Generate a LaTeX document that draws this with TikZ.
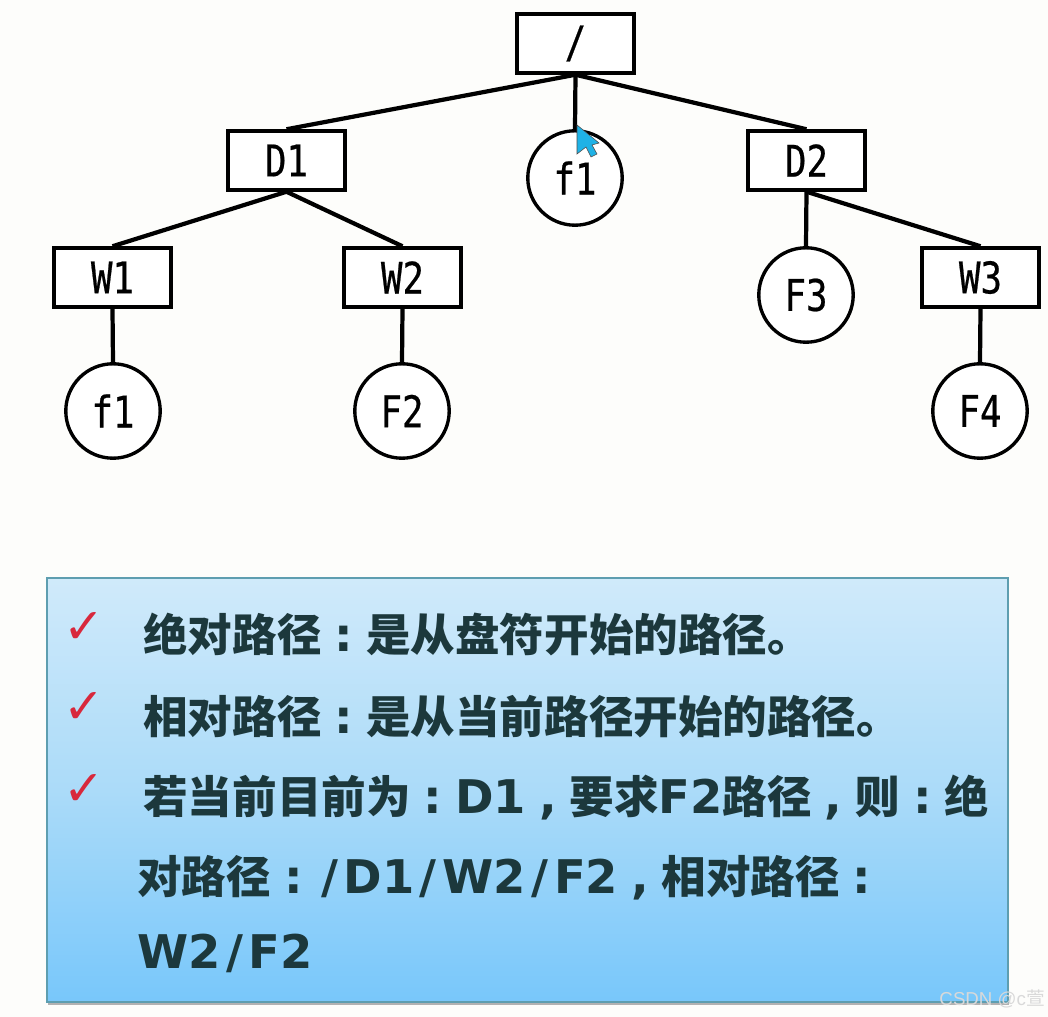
\documentclass[tikz,border=0pt]{standalone}
\usepackage{fontspec}
\setmainfont{DejaVu Sans}
\newfontfamily\cjk{Noto Sans CJK SC}
\newfontfamily\treefont[FakeStretch=0.82,FakeBold=0.5]{DejaVu Sans Mono}
\newfontfamily\markfont{Liberation Sans}
\newcommand{\zh}[1]{{\cjk\fontsize{31.7}{34}\selectfont #1}}
\newcommand{\gp}[1]{\kern.28em#1\kern.28em}
\newcommand{\sla}{\kern.12em/\kern.12em}
\definecolor{paper}{HTML}{FDFDFB}
\definecolor{panelTop}{HTML}{D0EAFA}
\definecolor{panelMid}{HTML}{ABDBF9}
\definecolor{panelBot}{HTML}{78C7FA}
\definecolor{panelEdge}{HTML}{5E9EB0}
\definecolor{inkText}{HTML}{1C383C}
\definecolor{checkRed}{HTML}{D8283C}
\definecolor{cursorBlue}{HTML}{1FB2E6}

\begin{document}
\begin{tikzpicture}[x=0.025cm, y=-0.025cm, font=\treefont\fontsize{31}{34}\selectfont,
    dirb/.style={draw, line width=2.6pt, fill=white, minimum width=2.92cm, minimum height=1.47cm, inner sep=0pt},
    fileb/.style={draw, circle, line width=2.4pt, fill=white, minimum size=2.36cm, inner sep=0pt},
    link/.style={line width=3pt},
    panel/.style={draw=panelEdge, line width=1.5pt, top color=panelTop, bottom color=panelBot, middle color=panelMid, minimum width=24cm, minimum height=10.6cm},
    txt/.style={anchor=base west, inner sep=0pt, text=inkText, font=\fontsize{33}{36}\selectfont\bfseries},
    tick/.style={anchor=center, inner sep=0pt, text=checkRed, font=\fontsize{35}{38}\selectfont}]
  \useasboundingbox (0,0) rectangle (1048,1017);
  \fill[paper] (0,0) rectangle (1048,1017);
  % ---------------- directory tree ----------------
  \node[dirb] (R) at (575.5,43.5) {/};
  \node[dirb] (D1) at (286.5,160.5) {D1};
  \node[fileb] (F1) at (575,178) {f1};
  \node[dirb] (D2) at (806.5,160.5) {D2};
  \node[dirb] (W1) at (112.5,277.5) {W1};
  \node[dirb] (W2) at (402.5,277.5) {W2};
  \node[fileb] (F3) at (806,295) {F3};
  \node[dirb] (W3) at (980.5,277.5) {W3};
  \node[fileb] (F0) at (113,411) {f1};
  \node[fileb] (F2) at (402,411) {F2};
  \node[fileb] (F4) at (980,411) {F4};
  \draw[link] (R.south) -- (D1.north);
  \draw[link] (R.south) -- (F1.north);
  \draw[link] (R.south) -- (D2.north);
  \draw[link] (D1.south) -- (W1.north);
  \draw[link] (D1.south) -- (W2.north);
  \draw[link] (D2.south) -- (F3.north);
  \draw[link] (D2.south) -- (W3.north);
  \draw[link] (W1.south) -- (F0.north);
  \draw[link] (W2.south) -- (F2.north);
  \draw[link] (W3.south) -- (F4.north);
  % mouse pointer
  \fill[cursorBlue, draw=black!70, line width=0.4pt] (577,125) -- (577,154) -- (586,147) -- (591,157) -- (597,154) -- (592,145) -- (599,143) -- cycle;
  % ---------------- explanation panel ----------------
  \fill[black!30] (48,583) rectangle (1009,1005);
  \node[panel] (P) at (527.5,790) {};
  \node[tick] (C1) at (84,628) {✓};
  \node[tick] (C2) at (84,708) {✓};
  \node[tick] (C3) at (84,790) {✓};
  \node[txt] (L1) at (143,651) {\zh{绝对路径}\gp{:}\zh{是从盘符开始的路径。}};
  \node[txt] (L2) at (143,733) {\zh{相对路径}\gp{:}\zh{是从当前路径开始的路径。}};
  \node[txt] (L3) at (143,813) {\zh{若当前目前为}\gp{:}D1\gp{,}\zh{要求}F2\zh{路径}\gp{,}\zh{则}\gp{:}\zh{绝}};
  \node[txt] (L4) at (137,893) {\zh{对路径}\gp{:}\sla D1\sla W2\sla F2\gp{,}\zh{相对路径}\gp{:}};
  \node[txt] (L5) at (137,968) {W2\sla F2};
  % watermark
  \node[anchor=base east, inner sep=0pt, text=white!85!black, font=\markfont\fontsize{13.3}{15}\selectfont] (M) at (1045,1005) {CSDN @c{\cjk\fontsize{13.3}{15}\selectfont 萱}};
\end{tikzpicture}
\end{document}
